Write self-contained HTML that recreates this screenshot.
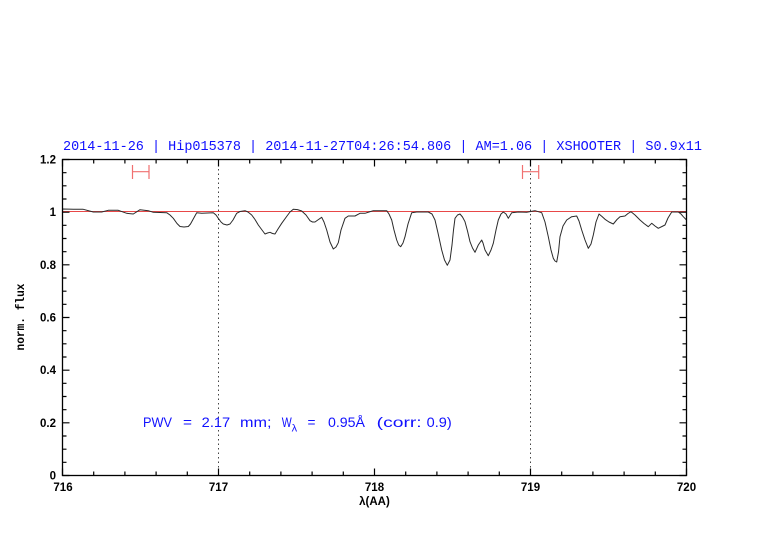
<!DOCTYPE html>
<html><head><meta charset="utf-8"><style>
html,body{margin:0;padding:0;background:#fff;}
svg{display:block;}
</style></head><body>
<svg width="782" height="542" viewBox="0 0 782 542" xmlns="http://www.w3.org/2000/svg">
<rect width="782" height="542" fill="#fff"/>
<!-- title -->
<text x="63" y="150" style="font-family:'Liberation Mono',monospace;font-size:13.5px" fill="#1010ff" textLength="639" lengthAdjust="spacingAndGlyphs">2014-11-26 | Hip015378 | 2014-11-27T04:26:54.806 | AM=1.06 | XSHOOTER | S0.9x11</text>

<!-- dotted verticals -->
<g stroke="#444" stroke-width="1" stroke-dasharray="1.5,3">
<line x1="218.5" y1="160" x2="218.5" y2="475"/>
<line x1="530.5" y1="160" x2="530.5" y2="475"/>
</g>

<!-- red continuum line -->
<line x1="62.5" y1="211.5" x2="686.5" y2="211.5" stroke="#e84848" stroke-width="1"/>

<!-- error bars -->
<g stroke="#f07070" stroke-width="1.2" fill="none">
<line x1="132.5" y1="171.7" x2="149" y2="171.7"/>
<line x1="132.5" y1="165" x2="132.5" y2="179"/>
<line x1="149" y1="165" x2="149" y2="179"/>
<line x1="522.5" y1="171.7" x2="538.7" y2="171.7"/>
<line x1="522.5" y1="165" x2="522.5" y2="179"/>
<line x1="538.7" y1="165" x2="538.7" y2="179"/>
</g>

<!-- spectrum -->
<polyline fill="none" stroke="#2a2a2a" stroke-width="1" stroke-linejoin="round" points="
62.5,209.2 63.3,209 73.3,209.3 83.3,209.3 93.3,212 101.7,212 108.3,210.3 118.3,210.3 126.7,213.3 133.3,214 140,209.7 148.3,210.7 153.3,212.3 166.7,212.7 170,215 173.3,218.3 177,223.5 180,226.5 184,227 188.3,226.5 190.5,224 192.7,220 196.7,212.7 201.7,213.3 213.3,212.7 216,215 218.3,218.3 221,222 223.3,224 227,225 230,224 233,220 236.7,213.3 240,211.5 245,210.7 248,212 251.7,215 255,219.5 258.3,225 262,230 265,234 267.5,233 270,232.3 272.5,233.5 275,234 278,229 281.7,223.3 287,216 290,212 293.3,209.3 297.5,209.6 301.7,211 306,215 310,220.7 312.5,222 315,222 318.5,219.5 321.7,217.3 324,222 326.7,230 330,242 333.3,249 336,247 338.3,242.7 341,230 345,218.3 348.3,216 355,216 360,213.3 365,213.3 369,212 373.3,210.7 380,210.7 386.7,210.7 389,214 391.7,220 394,230 396.7,240 398.7,245 400.7,246.7 403,243 405,236.7 408,224 411.7,212.7 416.7,212 428.3,212 432,214 435,220 438,233 441.7,250 444.5,260 447.3,265.3 450,260 452,245 453.5,230 455,218.3 457.5,215 460,214 462.5,217 465,221.7 467.5,231 470,241.7 472.5,248 475,252.3 478.3,245 481.7,240 483,243 485,250 488.3,255.7 491,250 493.3,243.3 496,230 498.3,220 501,214 503.3,212 506,214 508.3,218.3 511.7,212.7 518.3,212 526.7,212.3 533.3,211 535,210.7 541.7,212.7 545,222 548.3,236.7 551,250 553.3,258.3 555,261 556.7,262 558.5,252 560,236.7 563,226 566.7,220 571.7,216.7 576.7,216 579,221 581.7,230 585,240 588.3,248.3 591,244 593.3,235 596,222 599,214 602,216.5 605,219.3 609,222 613.3,224 617,219.5 620,216.7 625,216 628,213.5 631,211.7 635,215 640,220 644,223.5 648.3,226.7 651.7,223.3 655,226 658.3,228.3 662,226.5 665,225 668,218 671.7,212 678.3,212 681,214 683.3,216.7 686.5,220"/>

<!-- frame -->
<rect x="62.5" y="159.5" width="624" height="316" fill="none" stroke="#000" stroke-width="1.3"/>

<!-- ticks -->
<g stroke="#000" stroke-width="1.2">
<path d="M62.5 475.5v-7 M218.5 475.5v-7 M374.5 475.5v-7 M530.5 475.5v-7 M686.5 475.5v-7"/>
<path d="M62.5 159.5v7 M218.5 159.5v7 M374.5 159.5v7 M530.5 159.5v7 M686.5 159.5v7"/>
<path d="M93.7 475.5v-4 M124.9 475.5v-4 M156.1 475.5v-4 M187.3 475.5v-4 M249.7 475.5v-4 M280.9 475.5v-4 M312.1 475.5v-4 M343.3 475.5v-4 M405.7 475.5v-4 M436.9 475.5v-4 M468.1 475.5v-4 M499.3 475.5v-4 M561.7 475.5v-4 M592.9 475.5v-4 M624.1 475.5v-4 M655.3 475.5v-4"/>
<path d="M93.7 159.5v4 M124.9 159.5v4 M156.1 159.5v4 M187.3 159.5v4 M249.7 159.5v4 M280.9 159.5v4 M312.1 159.5v4 M343.3 159.5v4 M405.7 159.5v4 M436.9 159.5v4 M468.1 159.5v4 M499.3 159.5v4 M561.7 159.5v4 M592.9 159.5v4 M624.1 159.5v4 M655.3 159.5v4"/>
<path d="M62.5 475.5h7 M62.5 422.83h7 M62.5 370.17h7 M62.5 317.5h7 M62.5 264.83h7 M62.5 212.17h7 M62.5 159.5h7"/>
<path d="M686.5 475.5h-7 M686.5 422.83h-7 M686.5 370.17h-7 M686.5 317.5h-7 M686.5 264.83h-7 M686.5 212.17h-7 M686.5 159.5h-7"/>
<path d="M62.5 462.33h4 M62.5 449.17h4 M62.5 436h4 M62.5 409.67h4 M62.5 396.5h4 M62.5 383.33h4 M62.5 357h4 M62.5 343.83h4 M62.5 330.67h4 M62.5 304.33h4 M62.5 291.17h4 M62.5 278h4 M62.5 251.67h4 M62.5 238.5h4 M62.5 225.33h4 M62.5 199h4 M62.5 185.83h4 M62.5 172.67h4"/>
<path d="M686.5 462.33h-4 M686.5 449.17h-4 M686.5 436h-4 M686.5 409.67h-4 M686.5 396.5h-4 M686.5 383.33h-4 M686.5 357h-4 M686.5 343.83h-4 M686.5 330.67h-4 M686.5 304.33h-4 M686.5 291.17h-4 M686.5 278h-4 M686.5 251.67h-4 M686.5 238.5h-4 M686.5 225.33h-4 M686.5 199h-4 M686.5 185.83h-4 M686.5 172.67h-4"/>
</g>

<!-- y tick labels -->
<g style="font-family:'Liberation Sans',sans-serif;font-size:11.5px;font-weight:bold" fill="#000" text-anchor="end">
<text x="56" y="479.5">0</text>
<text x="56" y="426.8">0.2</text>
<text x="56" y="374.2">0.4</text>
<text x="56" y="321.5">0.6</text>
<text x="56" y="268.8">0.8</text>
<text x="56" y="216.2">1</text>
<text x="56" y="163.5">1.2</text>
</g>

<!-- x tick labels -->
<g style="font-family:'Liberation Sans',sans-serif;font-size:11.5px;font-weight:bold" fill="#000" text-anchor="middle">
<text x="63" y="491">716</text>
<text x="218.5" y="491">717</text>
<text x="374.5" y="491">718</text>
<text x="530.5" y="491">719</text>
<text x="686.5" y="491">720</text>
</g>

<!-- axis labels -->
<text x="374.5" y="505" style="font-family:'Liberation Sans',sans-serif;font-size:11.5px;font-weight:bold" text-anchor="middle" fill="#000">λ(AA)</text>
<text transform="translate(24,317) rotate(-90)" style="font-family:'Liberation Mono',monospace;font-size:12px;font-weight:bold" text-anchor="middle" fill="#000" textLength="67" lengthAdjust="spacingAndGlyphs">norm. flux</text>

<!-- PWV annotation -->
<g style="font-family:'Liberation Sans',sans-serif;font-size:14px" fill="#1010ff">
<text x="143" y="427" textLength="29" lengthAdjust="spacingAndGlyphs">PWV</text>
<text x="183" y="427" textLength="9" lengthAdjust="spacingAndGlyphs">=</text>
<text x="201.7" y="427" textLength="28.5" lengthAdjust="spacingAndGlyphs">2.17</text>
<text x="240" y="427" textLength="31.5" lengthAdjust="spacingAndGlyphs">mm;</text>
<text x="281.7" y="427" textLength="10" lengthAdjust="spacingAndGlyphs">W</text>
<text x="291.7" y="431.5" style="font-size:10px" textLength="5.5" lengthAdjust="spacingAndGlyphs">λ</text>
<text x="307.5" y="427" textLength="8" lengthAdjust="spacingAndGlyphs">=</text>
<text x="328" y="427" textLength="37" lengthAdjust="spacingAndGlyphs">0.95Å</text>
<text x="376.7" y="427" textLength="45" lengthAdjust="spacingAndGlyphs">(corr:</text>
<text x="426.7" y="427" textLength="25" lengthAdjust="spacingAndGlyphs">0.9)</text>
</g>
</svg>
</body></html>
